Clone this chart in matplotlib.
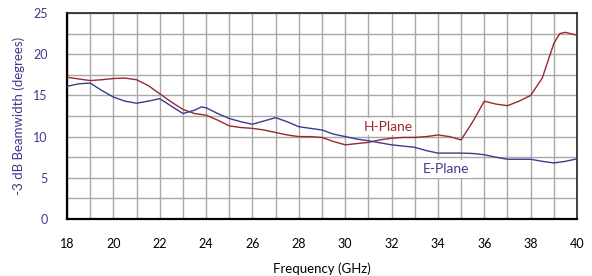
import numpy as np
import matplotlib
matplotlib.use("Agg")
import matplotlib.pyplot as plt

plt.rcParams['font.family'] = ['Lato', 'DejaVu Sans']

# H-Plane beamwidth (degrees)
h_freq = [18, 18.5, 19, 19.5, 20, 20.5, 21, 21.5, 22, 22.5, 23, 23.5, 24, 24.5,
          25, 25.5, 26, 26.5, 27, 27.5, 28, 28.5, 29, 29.5, 30, 30.5, 31, 31.5,
          32, 32.5, 33, 33.5, 34, 34.5, 35, 35.5, 36, 36.5, 37, 37.5, 38, 38.5,
          39, 39.25, 39.5, 40]
h_bw = [17.2, 17.0, 16.8, 16.9, 17.05, 17.1, 16.9, 16.2, 15.2, 14.2, 13.3, 12.8,
        12.6, 12.0, 11.3, 11.1, 11.0, 10.8, 10.5, 10.2, 10.0, 10.0, 9.9, 9.4,
        9.0, 9.15, 9.3, 9.6, 9.8, 9.9, 9.9, 10.0, 10.2, 10.0, 9.6, 11.8, 14.3,
        13.95, 13.75, 14.3, 15.0, 17.1, 21.3, 22.5, 22.65, 22.3]

# E-Plane beamwidth (degrees)
e_freq = [18, 18.5, 19, 19.5, 20, 20.5, 21, 21.5, 22, 22.5, 23, 23.5, 23.8, 24,
          24.5, 25, 25.5, 26, 26.5, 27, 27.5, 28, 28.5, 29, 29.5, 30, 30.5, 31,
          31.5, 32, 32.5, 33, 33.5, 34, 35, 35.5, 36, 36.5, 37, 38, 38.5, 39,
          39.5, 40]
e_bw = [16.1, 16.4, 16.5, 15.6, 14.8, 14.3, 14.05, 14.3, 14.6, 13.7, 12.8, 13.2,
        13.6, 13.5, 12.8, 12.2, 11.8, 11.5, 11.9, 12.3, 11.8, 11.2, 11.0, 10.8,
        10.3, 10.0, 9.7, 9.5, 9.25, 9.0, 8.85, 8.7, 8.3, 8.0, 8.0, 7.95, 7.8,
        7.5, 7.25, 7.25, 7.0, 6.8, 7.0, 7.3]

x_ticks = [18, 20, 22, 24, 26, 28, 30, 32, 34, 36, 38, 40]
y_ticks = [0, 5, 10, 15, 20, 25]

red = '#98292d'
blue = '#3b3b8c'

fig = plt.figure(figsize=(5.92, 2.76), dpi=100)
ax = fig.add_axes([0.1132, 0.2065, 0.8615, 0.7464])

ax.plot(h_freq, h_bw, color=red, lw=1.0, zorder=3)
ax.plot(e_freq, e_bw, color=blue, lw=1.0, zorder=3)

ax.set_xlim(18, 40)
ax.set_ylim(0, 25)
ax.set_xticks(x_ticks)
ax.set_yticks(y_ticks)
ax.set_xticks(np.arange(18, 41, 1), minor=True)
ax.set_yticks(np.arange(0, 25.1, 2.5), minor=True)
ax.grid(True, which='both', color='#a8a8a8', lw=1.0, zorder=0)
ax.set_axisbelow(True)

ax.tick_params(which='both', length=0)
ax.tick_params(axis='x', labelsize=9, pad=14, labelcolor='black')
ax.tick_params(axis='y', labelsize=9, pad=14, labelcolor=blue)

for s in ['left', 'bottom']:
    ax.spines[s].set_linewidth(1.6)
    ax.spines[s].set_color('black')
for s in ['top', 'right']:
    ax.spines[s].set_linewidth(1.2)
    ax.spines[s].set_color('#222222')

ax.set_xlabel('Frequency (GHz)', fontsize=9.5, labelpad=9)
ax.set_ylabel('-3 dB Beamwidth (degrees)', fontsize=9.5, color=blue, labelpad=6)

ax.text(31.85, 11.2, 'H-Plane', color=red, fontsize=10, ha='center', va='center',
        zorder=2, bbox=dict(facecolor='white', edgecolor='none', pad=2))
ax.text(34.35, 6.1, 'E-Plane', color=blue, fontsize=10, ha='center', va='center',
        zorder=2, bbox=dict(facecolor='white', edgecolor='none', pad=2))

fig.savefig('out.png', dpi=100)
